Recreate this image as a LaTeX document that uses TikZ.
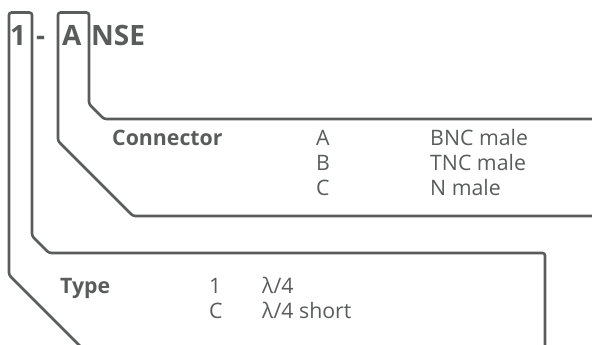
\documentclass[tikz,border=0pt]{standalone}
\usepackage{fontspec}
\setmainfont{Open Sans}
\definecolor{ink}{HTML}{5A5C5C}
\begin{document}
\begin{tikzpicture}[x=1pt,y=-1pt,
  line/.style={draw=ink,line width=2.6pt,rounded corners=2.5pt},
  ttl/.style={anchor=base west,inner sep=0pt,text=ink,font=\fontsize{28}{30}\selectfont\bfseries},
  lbl/.style={anchor=base west,inner sep=0pt,text=ink,font=\fontsize{21.3}{24}\selectfont\bfseries},
  txt/.style={anchor=base west,inner sep=0pt,text=ink,font=\fontsize{21.3}{24}\selectfont}]
\useasboundingbox (0,0) rectangle (592,345);
\clip (0,0) rectangle (592,345);
% title
\node[ttl] (t1) at (10,46) {1};
\node[ttl] (tdash) at (36,46) {-};
\node[ttl] (tA) at (62,46) {A};
\node[ttl] (tNSE) at (91,46) {NSE};
% bracket for "1"
\draw[line] (81,347) -- (9,275) -- (9,12.5) -- (32,12.5) -- (32,236) -- (49,253) -- (545,253) -- (545,347);
% bracket for "A"
\draw[line] (594,216) -- (133,216) -- (58,141) -- (58,12.5) -- (89,12.5) -- (89,104) -- (104,119) -- (594,119);
% connector block
\node[lbl] (conn) at (112,145) {Connector};
\node[txt] (cA) at (316,145) {A};
\node[txt] (cB) at (316,170) {B};
\node[txt] (cC) at (316,195) {C};
\node[txt] (vA) at (430,145) {BNC male};
\node[txt] (vB) at (430,170) {TNC male};
\node[txt] (vC) at (430,195) {N male};
% type block
\node[lbl] (type) at (60,293) {Type};
\node[txt] (y1) at (209,293) {1};
\node[txt] (yC) at (209,318) {C};
\node[txt] (w1) at (262,293) {λ/4};
\node[txt] (wC) at (262,318) {λ/4 short};
\end{tikzpicture}
\end{document}
